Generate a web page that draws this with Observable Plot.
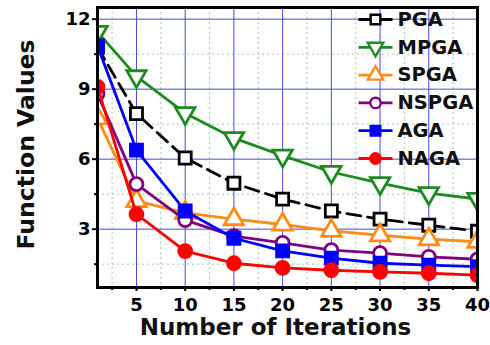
<!DOCTYPE html>
<html>
<head>
<meta charset="utf-8">
<script src="https://cdn.jsdelivr.net/npm/d3@7"></script>
<script src="https://cdn.jsdelivr.net/npm/@observablehq/plot@0.6"></script>
<style>
  html, body { margin: 0; padding: 0; background: #fff; }
  #chart svg { display: block; }
</style>
</head>
<body>
<div id="chart"></div>
<script>
// Iteration checkpoints and function value per algorithm
const iterations = [1, 5, 10, 15, 20, 25, 30, 35, 40];
const pga   = [10.8, 7.95, 6.05, 4.97, 4.29, 3.78, 3.43, 3.17, 2.91];
const mpga  = [11.45, 9.55, 7.97, 6.9, 6.15, 5.45, 4.97, 4.54, 4.29];
const spga  = [7.75, 4.21, 3.7, 3.43, 3.2, 2.93, 2.74, 2.57, 2.46];
const nspga = [8.8, 4.93, 3.39, 2.7, 2.41, 2.1, 1.97, 1.81, 1.71];
const aga   = [10.85, 6.39, 3.78, 2.61, 2.07, 1.76, 1.54, 1.46, 1.39];
const naga  = [9.1, 3.64, 2.06, 1.54, 1.34, 1.24, 1.17, 1.11, 1.03];

const seriesNames = ["PGA", "MPGA", "SPGA", "NSPGA", "AGA", "NAGA"];
const seriesValues = [pga, mpga, spga, nspga, aga, naga];

const xTicks = [5, 10, 15, 20, 25, 30, 35, 40];
const xMinor = [2.5, 7.5, 12.5, 17.5, 22.5, 27.5, 32.5, 37.5];
const yTicks = [3, 6, 9, 12];
const yMinor = [1.5, 4.5, 7.5, 10.5];

// Per-series drawing style
const styles = {
  PGA:   {color: "#000000", symbol: "square",   open: true,  rotate: 0,   dash: "14,7"},
  MPGA:  {color: "#1f8a1f", symbol: "triangle", open: true,  rotate: 180, dash: null},
  SPGA:  {color: "#ff8c1a", symbol: "triangle", open: true,  rotate: 0,   dash: null},
  NSPGA: {color: "#800080", symbol: "circle",   open: true,  rotate: 0,   dash: null},
  AGA:   {color: "#0000ff", symbol: "square",   open: false, rotate: 0,   dash: null},
  NAGA:  {color: "#ff0000", symbol: "circle",   open: false, rotate: 0,   dash: null}
};

const rows = seriesNames.flatMap((name, s) =>
  iterations.map((it, i) => ({series: name, it, v: seriesValues[s][i]}))
);

// Horizontal stroke used as the legend line sample
const legendLine = {draw(ctx) { ctx.moveTo(-17, 0); ctx.lineTo(17, 0); }};

function markerRadius(sym) { return sym === "square" ? 6.8 : sym === "triangle" ? 7.2 : 6.5; }

const seriesMarks = seriesNames.flatMap(name => {
  const st = styles[name];
  const data = rows.filter(d => d.series === name);
  return [
    Plot.line(data, {
      x: "it", y: "v", stroke: st.color, strokeWidth: 2.8,
      strokeDasharray: st.dash || undefined, clip: "frame"
    }),
    Plot.dot(data, {
      x: "it", y: "v", symbol: st.symbol, r: markerRadius(st.symbol),
      rotate: st.rotate,
      fill: st.open ? "white" : st.color, stroke: st.color, strokeWidth: 2.8,
      clip: "frame"
    })
  ];
});

const legendMarks = seriesNames.flatMap((name, i) => {
  const st = styles[name];
  const dy = 12 + i * 27.8;
  return [
    Plot.dot([name], {
      frameAnchor: "top-left", dx: 278, dy, symbol: legendLine, r: 5,
      fill: "none", stroke: st.color, strokeWidth: 2.8
    }),
    Plot.dot([name], {
      frameAnchor: "top-left", dx: 278, dy, symbol: st.symbol,
      r: markerRadius(st.symbol) * 0.8, rotate: st.rotate,
      fill: st.open ? "white" : st.color, stroke: st.color, strokeWidth: 2.4
    }),
    Plot.text([name], {
      frameAnchor: "top-left", dx: 300, dy, text: d => d,
      textAnchor: "start", lineAnchor: "middle",
      fontSize: 19.5, fontWeight: "bold", fill: "#111"
    })
  ];
});

const chart = Plot.plot({
  width: 490,
  height: 345,
  marginLeft: 97,
  marginRight: 13,
  marginTop: 7,
  marginBottom: 58,
  style: {fontFamily: "DejaVu Sans", fontWeight: "bold", background: "white", color: "black"},
  x: {domain: [1, 40]},
  y: {domain: [0.5, 12.5]},
  marks: [
    Plot.gridX(xMinor, {stroke: "#9fd09f", strokeOpacity: 1, strokeDasharray: "2,3", strokeWidth: 1}),
    Plot.gridY(yMinor, {stroke: "#9fd09f", strokeOpacity: 1, strokeDasharray: "2,3", strokeWidth: 1}),
    Plot.gridX(xTicks, {stroke: "#4848e0", strokeOpacity: 1, strokeWidth: 1}),
    Plot.gridY(yTicks, {stroke: "#4848e0", strokeOpacity: 1, strokeWidth: 1}),
    Plot.axisX({ticks: xTicks, tickSize: 4, tickPadding: 7, strokeWidth: 2, fontSize: 18, fontWeight: "bold", label: null}),
    Plot.axisX({ticks: xMinor, tickSize: 3, strokeWidth: 2, tickFormat: () => "", label: null}),
    Plot.axisY({ticks: yTicks, tickSize: 5, tickPadding: 2, strokeWidth: 2, fontSize: 18, fontWeight: "bold", label: null}),
    Plot.axisY({ticks: yMinor, tickSize: 3, strokeWidth: 2, tickFormat: () => "", label: null}),
    ...seriesMarks,
    ...legendMarks,
    Plot.frame({stroke: "black", strokeWidth: 3}),
    Plot.text(["Number of Iterations"], {
      frameAnchor: "bottom", dx: -12, dy: 40, text: d => d,
      textAnchor: "middle", lineAnchor: "middle",
      fontSize: 23, fontWeight: "bold", fill: "#111"
    }),
    Plot.text(["Function Values"], {
      frameAnchor: "left", dx: -71, dy: -3, text: d => d, rotate: -90,
      textAnchor: "middle", lineAnchor: "middle",
      fontSize: 23.5, fontWeight: "bold", fill: "#111"
    })
  ]
});

document.getElementById("chart").appendChild(chart);
</script>
</body>
</html>
